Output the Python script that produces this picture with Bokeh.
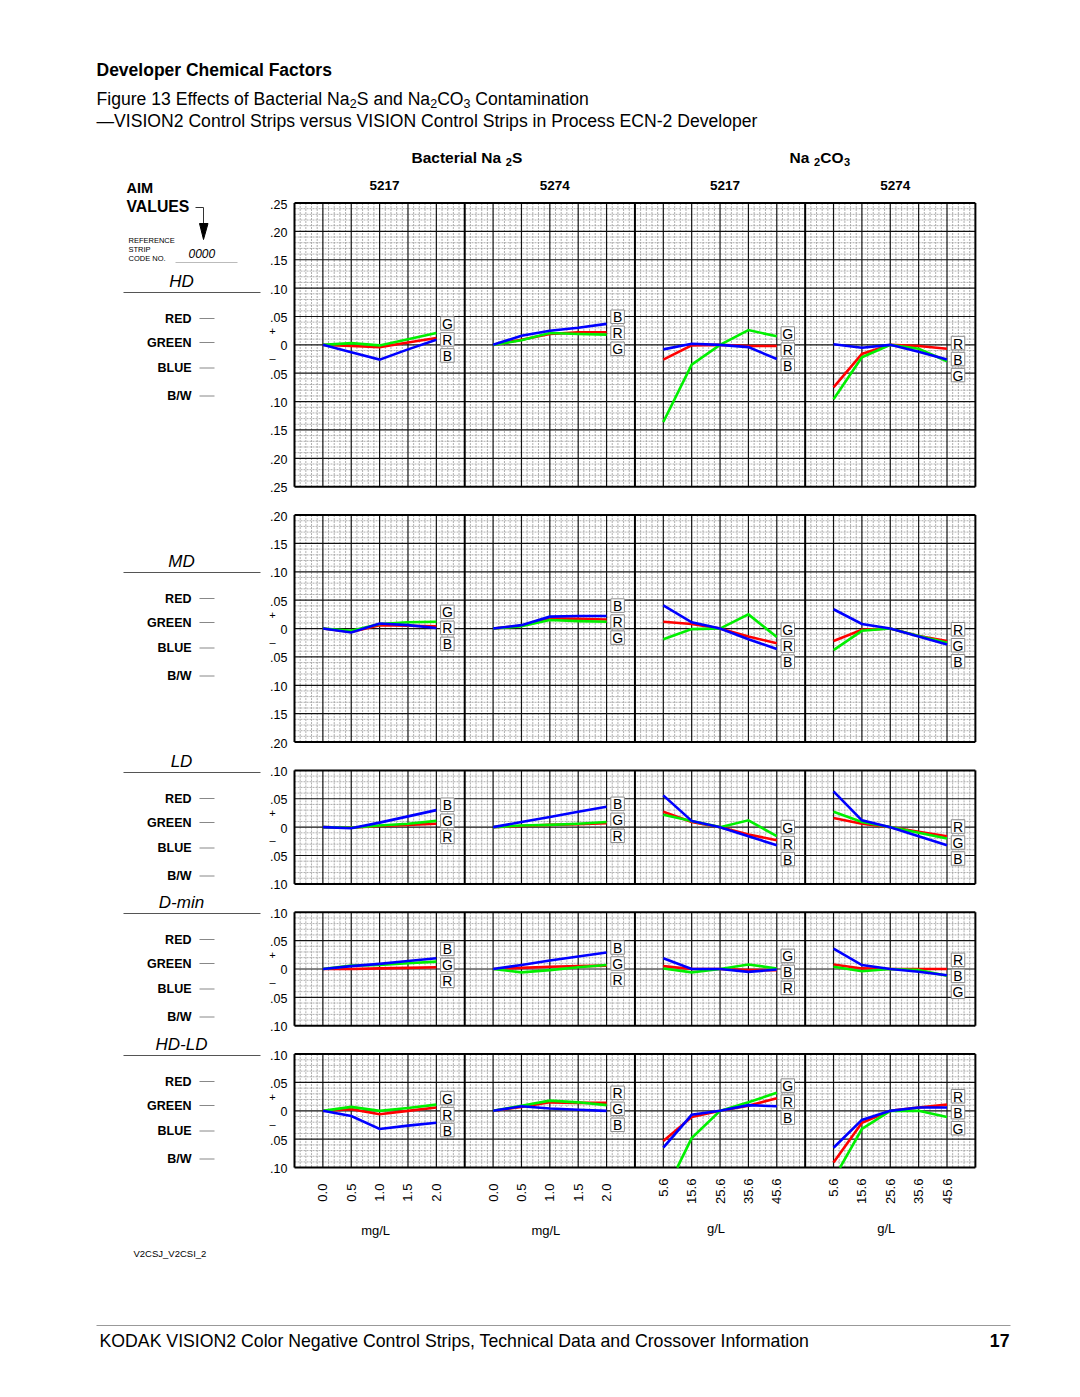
import math
from bokeh.plotting import figure
from bokeh.core.properties import value
from bokeh.embed import file_html
from bokeh.resources import INLINE

# ---------------- data ----------------
SECTIONS = ["HD", "MD", "LD", "D-min", "HD-LD"]
SECTION_RANGE = [0.25, 0.20, 0.10, 0.10, 0.10]
COLUMN_CODES = ["5217", "5274", "5217", "5274"]
MG_TICKS = ["0.0", "0.5", "1.0", "1.5", "2.0"]
G_TICKS = ["5.6", "15.6", "25.6", "35.6", "45.6"]
COLUMN_TICKS = [MG_TICKS, MG_TICKS, G_TICKS, G_TICKS]
COLUMN_UNITS = ["mg/L", "mg/L", "g/L", "g/L"]
CHANNELS = ["RED", "GREEN", "BLUE", "B/W"]

# each list: [5217 Na2S, 5274 Na2S, 5217 Na2CO3, 5274 Na2CO3]
HD_RED = [[0, -0.002, -0.004, 0.004, 0.012],
          [0, 0.009, 0.019, 0.022, 0.022],
          [-0.026, -0.001, 0, -0.002, -0.002],
          [-0.075, -0.016, 0, -0.002, -0.007]]
HD_GREEN = [[0, 0.003, -0.001, 0.010, 0.021],
            [0, 0.008, 0.021, 0.019, 0.018],
            [-0.136, -0.035, 0, 0.026, 0.015],
            [-0.096, -0.022, 0, -0.007, -0.029]]
HD_BLUE = [[0, -0.013, -0.026, -0.008, 0.009],
           [0, 0.016, 0.025, 0.030, 0.037],
           [-0.008, 0.002, 0, -0.004, -0.025],
           [0.001, -0.005, 0, -0.012, -0.026]]

MD_RED = [[0, -0.006, 0.006, 0.005, 0.004],
          [0, 0.005, 0.018, 0.017, 0.016],
          [0.012, 0.008, 0, -0.014, -0.026],
          [-0.022, -0.002, 0, -0.013, -0.022]]
MD_GREEN = [[0, -0.004, 0.008, 0.011, 0.012],
            [0, 0.004, 0.015, 0.013, 0.012],
            [-0.019, -0.001, 0, 0.025, -0.015],
            [-0.038, -0.004, 0, -0.013, -0.025]]
MD_BLUE = [[0, -0.007, 0.009, 0.006, 0.001],
           [0, 0.006, 0.021, 0.022, 0.022],
           [0.041, 0.011, 0, -0.019, -0.036],
           [0.034, 0.008, 0, -0.014, -0.028]]

LD_RED = [[0, -0.001, 0.002, 0.004, 0.006],
          [0, 0.002, 0.004, 0.005, 0.007],
          [0.027, 0.009, 0, -0.013, -0.023],
          [0.016, 0.006, 0, -0.008, -0.016]]
LD_GREEN = [[0, -0.001, 0.003, 0.006, 0.011],
            [0, 0.003, 0.004, 0.006, 0.009],
            [0.022, 0.011, 0, 0.012, -0.016],
            [0.027, 0.009, 0, -0.010, -0.020]]
LD_BLUE = [[0, -0.002, 0.008, 0.019, 0.030],
           [0, 0.009, 0.018, 0.027, 0.036],
           [0.056, 0.011, 0, -0.016, -0.032],
           [0.063, 0.012, 0, -0.016, -0.032]]

DMIN_RED = [[0, 0.000, 0.001, 0.002, 0.003],
            [0, 0.002, 0.004, 0.005, 0.006],
            [0.005, 0, 0, -0.002, -0.002],
            [0.008, 0.001, 0, 0, 0]]
DMIN_GREEN = [[0, 0.006, 0.007, 0.010, 0.013],
              [0, -0.006, -0.002, 0.003, 0.007],
              [0.001, -0.006, 0, 0.008, 0.001],
              [0.004, -0.004, 0, -0.002, -0.012]]
DMIN_BLUE = [[0, 0.005, 0.009, 0.014, 0.019],
             [0, 0.007, 0.015, 0.022, 0.029],
             [0.019, 0, 0, -0.005, -0.001],
             [0.036, 0.007, 0, -0.005, -0.011]]

HDLD_RED = [[0, 0.003, -0.006, 0.000, 0.006],
            [0, 0.007, 0.015, 0.014, 0.014],
            [-0.053, -0.011, 0, 0.009, 0.022],
            [-0.091, -0.021, 0, 0.006, 0.011]]
HDLD_GREEN = [[0, 0.007, 0, 0.005, 0.011],
              [0, 0.009, 0.018, 0.015, 0.010],
              [-0.15, -0.048, 0, 0.015, 0.032],
              [-0.12, -0.032, 0, 0, -0.011]]
HDLD_BLUE = [[0, -0.009, -0.032, -0.026, -0.021],
             [0, 0.008, 0.004, 0.002, 0],
             [-0.065, -0.007, 0, 0.010, 0.008],
             [-0.065, -0.016, 0, 0.006, 0.006]]

SERIES = [
    {"R": HD_RED, "G": HD_GREEN, "B": HD_BLUE},
    {"R": MD_RED, "G": MD_GREEN, "B": MD_BLUE},
    {"R": LD_RED, "G": LD_GREEN, "B": LD_BLUE},
    {"R": DMIN_RED, "G": DMIN_GREEN, "B": DMIN_BLUE},
    {"R": HDLD_RED, "G": HDLD_GREEN, "B": HDLD_BLUE},
]

# ---------------- layout / style ----------------
W, H = 1080, 1397
UNIT = 28.37            # px per major division (0.05 density)
PXD = UNIT / 0.05
X0 = 294.0
TOP0 = 202.5
NCOL = 4
DIV_PER_COL = 6
COLORS = {"R": "#ff0000", "G": "#00f000", "B": "#0000ff"}
DRAW_ORDER = ["R", "G", "B"]
FONT = value("Liberation Sans")

# Arial / Liberation Sans advance widths (per 1000 em) for rich-text layout
W_REG = {' ': 278, 'F': 611, 'i': 222, 'g': 556, 'u': 556, 'r': 333, 'e': 556,
         'E': 667, 'f': 278, 'c': 500, 't': 278, 's': 500, 'o': 556, 'B': 667,
         'a': 556, 'l': 222, 'N': 722, 'S': 667, 'n': 556, 'd': 556, 'C': 722,
         'O': 778, 'm': 833}
W_BOLD = {' ': 278, 'B': 722, 'a': 556, 'c': 556, 't': 333, 'e': 556, 'r': 389,
          'i': 278, 'l': 278, 'N': 722, 'S': 667, 'C': 722, 'O': 778}

p = figure(width=W, height=H, x_range=(0, W), y_range=(H, 0),
           output_backend="svg", toolbar_location=None, min_border=0)
p.axis.visible = False
p.grid.visible = False
p.outline_line_color = None
p.background_fill_color = "white"
p.border_fill_color = "white"


def txt(x, y, s, size, align="left", baseline="middle", style="normal",
        color="black", angle=0.0):
    if not isinstance(x, list):
        x, y, s = [x], [y], [s]
    p.text(x=x, y=y, text=s, text_font=FONT, text_font_size=value(f"{size}px"),
           text_align=align, text_baseline=baseline, text_font_style=style,
           text_color=color, angle=angle)


def str_width(s, size, bold):
    table = W_BOLD if bold else W_REG
    return sum(table.get(ch, 556) for ch in s) * size / 1000.0


def rich(x, y, pieces, size, sub_size, style="normal", gap=0.0):
    bold = style == "bold"
    for s, is_sub in pieces:
        lead = len(s) - len(s.lstrip(" "))
        if lead:
            x += str_width(" " * lead, size, bold)
            s = s.lstrip(" ")
        if is_sub:
            txt(x + gap, y + size * 0.26, s, sub_size, style=style)
            x += 2 * gap + str_width(s, sub_size, bold)
        else:
            txt(x, y, s, size, style=style)
            x += str_width(s, size, bold)


# section geometry
tops, bottoms, zeros = [], [], []
t = TOP0
for r in SECTION_RANGE:
    ndiv = int(round(2 * r / 0.05))
    tops.append(t)
    bottoms.append(t + ndiv * UNIT)
    zeros.append(t + (r / 0.05) * UNIT)
    t = t + ndiv * UNIT + UNIT

RIGHT = X0 + NCOL * DIV_PER_COL * UNIT


def ypix(s, v):
    return zeros[s] - v * PXD


def xpt(c, k):
    return X0 + (c * DIV_PER_COL + k + 1) * UNIT


# ---------------- grids ----------------
minor = {"x0": [], "y0": [], "x1": [], "y1": []}
major = {"x0": [], "y0": [], "x1": [], "y1": []}
heavy = {"x0": [], "y0": [], "x1": [], "y1": []}


def add(d, a, b, c, e):
    d["x0"].append(a); d["y0"].append(b); d["x1"].append(c); d["y1"].append(e)


nvx = NCOL * DIV_PER_COL * 5
for s in range(len(SECTIONS)):
    top, bot = tops[s], bottoms[s]
    nvy = int(round((bot - top) / UNIT)) * 5
    for j in range(1, nvy):
        y = top + j * UNIT / 5
        add(major if j % 5 == 0 else minor, X0, y, RIGHT, y)
    for i in range(1, nvx):
        x = X0 + i * UNIT / 5
        if i % (DIV_PER_COL * 5) == 0:
            add(heavy, x, top, x, bot)
        elif i % 5 == 0:
            add(major, x, top, x, bot)
        else:
            add(minor, x, top, x, bot)
    add(heavy, X0, top, RIGHT, top)
    add(heavy, X0, bot, RIGHT, bot)
    add(heavy, X0, top, X0, bot)
    add(heavy, RIGHT, top, RIGHT, bot)

p.segment(**minor, line_color="#9c9c9c", line_width=0.8, line_dash="2 1")
p.segment(**major, line_color="#111111", line_width=1.2)
p.segment(**heavy, line_color="#000000", line_width=2.0)


# ---------------- series ----------------
def clip_poly(xs, vs, lo, hi):
    out_x, out_v = [], []
    for i in range(len(xs) - 1):
        xa, va, xb, vb = xs[i], vs[i], xs[i + 1], vs[i + 1]
        t0, t1 = 0.0, 1.0
        dv = vb - va
        for bound, is_lo in ((lo, True), (hi, False)):
            if dv == 0:
                if (is_lo and va < bound) or ((not is_lo) and va > bound):
                    t0, t1 = 1, 0
                continue
            tb = (bound - va) / dv
            if (is_lo and dv > 0) or ((not is_lo) and dv < 0):
                t0 = max(t0, tb)
            else:
                t1 = min(t1, tb)
        if t0 <= t1:
            pa = (xa + t0 * (xb - xa), va + t0 * dv)
            pb = (xa + t1 * (xb - xa), va + t1 * dv)
            if not out_x or (abs(out_x[-1] - pa[0]) > 1e-6):
                out_x.append(pa[0]); out_v.append(pa[1])
            out_x.append(pb[0]); out_v.append(pb[1])
    return out_x, out_v


box_x, box_y, box_t = [], [], []
for s in range(len(SECTIONS)):
    r = SECTION_RANGE[s]
    for c in range(NCOL):
        xs = [xpt(c, k) for k in range(5)]
        for key in DRAW_ORDER:
            vals = SERIES[s][key][c]
            cx, cv = clip_poly(xs, vals, -r, r)
            p.line(cx, [ypix(s, v) for v in cv], line_color=COLORS[key],
                   line_width=2.6, line_join="miter")
        ends = sorted(["R", "G", "B"], key=lambda kk: -SERIES[s][kk][c][-1])
        mean_y = sum(ypix(s, SERIES[s][kk][c][-1]) for kk in ends) / 3.0 + 2.5
        for i, kk in enumerate(ends):
            box_x.append(xs[-1] + 11)
            box_y.append(mean_y + (i - 1) * 16)
            box_t.append(kk)

p.rect(x=box_x, y=box_y, width=13.5, height=13.5, fill_color="white",
       line_color="#8a8a8a", line_width=1)
txt(box_x, [y + 0.5 for y in box_y], box_t, 14, align="center")

# ---------------- y tick labels ----------------
for s, r in enumerate(SECTION_RANGE):
    n = int(round(r / 0.05))
    xs_, ys_, ts_ = [], [], []
    for j in range(-n, n + 1):
        v = j * 0.05
        xs_.append(287); ys_.append(ypix(s, v) + 1)
        ts_.append("0" if j == 0 else ("%.2f" % abs(v))[1:])
    txt(xs_, ys_, ts_, 12.5, align="right")
    txt([272, 272], [zeros[s] - 14, zeros[s] + 13], ["+", "\u2013"], 11, align="center")

# ---------------- x tick labels ----------------
for c in range(NCOL):
    xs = [xpt(c, k) for k in range(5)]
    ytop = bottoms[-1] + (16 if COLUMN_UNITS[c] == "mg/L" else 11)
    txt(xs, [ytop] * 5, COLUMN_TICKS[c], 13, align="right", angle=math.pi / 2)
    cx = X0 + (c * DIV_PER_COL + 3) * UNIT
    uy = 1230 if COLUMN_UNITS[c] == "mg/L" else 1228
    txt(cx - 4, uy, COLUMN_UNITS[c], 13, align="center")

# ---------------- column headers ----------------
for c in range(NCOL):
    cx = X0 + (c * DIV_PER_COL + 3) * UNIT + 5
    txt(cx, 185, COLUMN_CODES[c], 13.5, align="center", style="bold")
rich(411, 157, [("Bacterial  Na", False), ("2", True), ("S", False)], 15.5, 11,
     style="bold", gap=0.3)
rich(789, 157, [("Na ", False), ("2", True), ("CO", False), ("3", True)], 15.5, 11,
     style="bold", gap=0.3)

# ---------------- titles ----------------
txt(96, 69, "Developer Chemical Factors", 17.5, style="bold")
rich(96, 98, [("Figure 13 Effects of Bacterial Na", False), ("2", True),
              ("S and Na", False), ("2", True), ("CO", False), ("3", True),
              (" Contamination", False)], 17.6, 12.5)
txt(96, 120, "\u2014VISION2 Control Strips versus VISION Control Strips in Process ECN-2 Developer", 17.6)

# ---------------- left side labels ----------------
txt(126, 187, "AIM", 14.5, style="bold")
txt(126, 206, "VALUES", 15.8, style="bold")
p.line([195, 203, 203], [207, 207, 224], line_color="#333333", line_width=1)
p.patch([199, 207.5, 203], [223, 223, 239], fill_color="black", line_color="black")
txt([128, 128, 128], [240, 249, 258], ["REFERENCE", "STRIP", "CODE NO."], 7.5)
txt(188, 253, "0000", 12, style="italic")
p.segment(x0=[175], y0=[262], x1=[237], y1=[262], line_color="#bbbbbb", line_width=1)

RULE_Y = [292, 572, 772, 913, 1055]
for s, name in enumerate(SECTIONS):
    ry = RULE_Y[s]
    txt(181, ry - 11, name, 17, align="center", style="italic")
    p.segment(x0=[123], y0=[ry], x1=[260], y1=[ry], line_color="#555555", line_width=1)
    offs = [26, 50, 75.5, 103.5]
    txt([191] * 4, [ry + o for o in offs], CHANNELS, 12.5, align="right", style="bold")
    p.segment(x0=[199] * 4, y0=[ry + o for o in offs], x1=[214] * 4,
              y1=[ry + o for o in offs], line_color="#888888", line_width=1)

txt(133, 1253, "V2CSJ_V2CSI_2", 9.5)

# ---------------- footer ----------------
p.segment(x0=[96], y0=[1325], x1=[1010], y1=[1325], line_color="#999999", line_width=1)
txt(99, 1340, "KODAK VISION2 Color Negative Control Strips, Technical Data and Crossover Information", 17.7)
txt(1009, 1340, "17", 17.7, align="right", style="bold")

open("out.html", "w").write(file_html(p, INLINE))
